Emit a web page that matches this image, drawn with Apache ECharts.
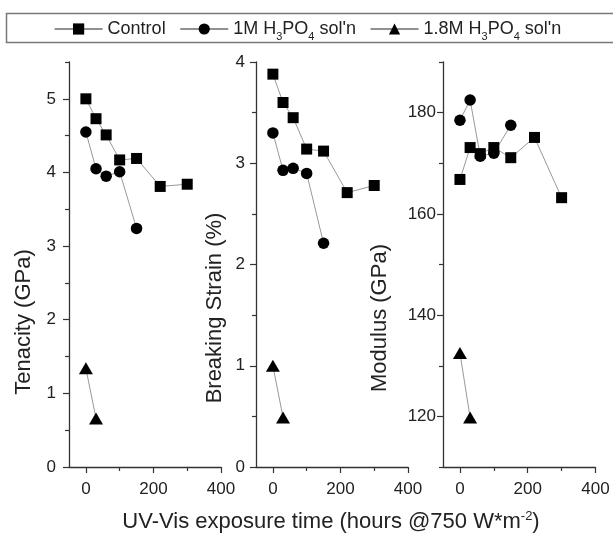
<!DOCTYPE html>
<html>
<head>
<meta charset="utf-8">
<script src="https://cdn.jsdelivr.net/npm/echarts@6/dist/echarts.min.js"></script>
<style>
html,body{margin:0;padding:0;background:#fff;}
#c{width:613px;height:534px;}
</style>
</head>
<body>
<div id="c"></div>
<script>
// ---- data ----
const timeControl = [0, 30, 60, 100, 150, 220, 300];
const time1M = [0, 30, 60, 100, 150];
const time18M = [0, 30];

const tenControl = [5.00, 4.73, 4.51, 4.17, 4.19, 3.81, 3.84];
const ten1M = [4.55, 4.05, 3.95, 4.01, 3.24];
const ten18M = [1.34, 0.66];

const strainControl = [3.88, 3.60, 3.45, 3.14, 3.12, 2.71, 2.78];
const strain1M = [3.30, 2.93, 2.95, 2.90, 2.21];
const strain18M = [1.00, 0.49];

const modControl = [166.8, 173.1, 171.9, 173.1, 171.1, 175.1, 163.2];
const mod1M = [178.5, 182.5, 171.4, 172.0, 177.5];
const mod18M = [132.5, 119.8];

const seriesNames = ['Control', "1M H3PO4 sol'n", "1.8M H3PO4 sol'n"];
const xLabelTicks = [0, 200, 400];
const xMinorTicks = [100, 300];
const yLabelTicks = [[0, 1, 2, 3, 4, 5], [0, 1, 2, 3, 4], [120, 140, 160, 180]];
const yMinorTicks = [[0.5, 1.5, 2.5, 3.5, 4.5, 5.5], [0.5, 1.5, 2.5, 3.5], [110, 130, 150, 170, 190]];
const yRanges = [[0, 5.5], [0, 4], [110, 190]];
const yTitles = ['Tenacity (GPa)', 'Breaking Strain (%)', 'Modulus (GPa)'];
const xTitle = 'UV-Vis exposure time (hours @750 W*m{sup|-2})';

const panelData = [
  [tenControl, ten1M, ten18M],
  [strainControl, strain1M, strain18M],
  [modControl, mod1M, mod18M]
];
const times = [timeControl, time1M, time18M];

// ---- layout / style ----
const FONT = 'Liberation Sans';
const TXT = '#222';
const AX = '#333';
const grids = [
  {left: 69, top: 62, width: 152, height: 405},
  {left: 256, top: 62, width: 152, height: 405},
  {left: 443, top: 62, width: 152.5, height: 405}
];
const labelMargins = [13, 11, 7];
const symbols = ['rect', 'circle', 'triangle'];
const symbolSizes = [11, 11.5, [14, 12]];

const xAxes = [], yAxes = [], series = [];
grids.forEach((g, i) => {
  xAxes.push({
    gridIndex: i, type: 'value', min: -50, max: 400,
    axisLine: {show: true, onZero: false, lineStyle: {color: AX, width: 1.3}},
    axisTick: {show: true, customValues: xLabelTicks, length: 6, lineStyle: {color: AX, width: 1.2}},
    axisLabel: {show: true, customValues: xLabelTicks, margin: 14, fontFamily: FONT, fontSize: 17, color: TXT, showMinLabel: true, showMaxLabel: true},
    splitLine: {show: false}
  });
  xAxes.push({
    gridIndex: i, type: 'value', min: -50, max: 400, position: 'bottom',
    axisLine: {show: false, onZero: false},
    axisTick: {show: true, customValues: xMinorTicks, length: 4, lineStyle: {color: AX, width: 1.2}},
    axisLabel: {show: false},
    splitLine: {show: false}
  });
  yAxes.push({
    gridIndex: i, type: 'value', min: yRanges[i][0], max: yRanges[i][1],
    axisLine: {show: true, onZero: false, lineStyle: {color: AX, width: 1.3}},
    axisTick: {show: true, customValues: yLabelTicks[i], length: 6, lineStyle: {color: AX, width: 1.2}},
    axisLabel: {show: true, customValues: yLabelTicks[i], margin: labelMargins[i], fontFamily: FONT, fontSize: 17, color: TXT},
    splitLine: {show: false}
  });
  yAxes.push({
    gridIndex: i, type: 'value', min: yRanges[i][0], max: yRanges[i][1], position: 'left',
    axisLine: {show: false, onZero: false},
    axisTick: {show: true, customValues: yMinorTicks[i], length: 4, lineStyle: {color: AX, width: 1.2}},
    axisLabel: {show: false},
    splitLine: {show: false}
  });
  for (let s = 0; s < 3; s++) {
    series.push({
      name: seriesNames[s],
      type: 'line',
      xAxisIndex: 2 * i, yAxisIndex: 2 * i,
      data: times[s].map((t, k) => [t, panelData[i][s][k]]),
      symbol: symbols[s],
      symbolSize: symbolSizes[s],
      showSymbol: true,
      itemStyle: {color: '#000'},
      lineStyle: {color: '#999', width: 1},
      emphasis: {disabled: true},
      animation: false,
      z: 3
    });
  }
});

const graphics = [
  {type: 'rect', shape: {x: 6.5, y: 13.5, width: 640, height: 29}, style: {fill: 'none', stroke: '#777', lineWidth: 1.5}, z: 0},
  {type: 'text', x: 331, y: 522, style: {text: xTitle, font: '22px "' + FONT + '"', fill: TXT, align: 'center', verticalAlign: 'middle',
    rich: {sup: {fontSize: 13, fontFamily: FONT, verticalAlign: 'top', fill: TXT, padding: [0, 0, 12, 0]}}}}
];
const nameCenters = [[24, 322], [215, 308], [380, 318]];
yTitles.forEach((t, i) => {
  graphics.push({type: 'text', x: nameCenters[i][0], y: nameCenters[i][1], rotation: Math.PI / 2,
    style: {text: t, font: '22px "' + FONT + '"', fill: TXT, align: 'center', verticalAlign: 'middle'}});
});

const chart = echarts.init(document.getElementById('c'), null, {renderer: 'canvas'});
chart.setOption({
  animation: false,
  backgroundColor: '#fff',
  grid: grids,
  xAxis: xAxes,
  yAxis: yAxes,
  series: series,
  legend: {
    data: seriesNames,
    left: 49, top: 11,
    itemWidth: 48, itemHeight: 14, itemGap: 14,
    lineStyle: {color: '#222', width: 1.2},
    textStyle: {fontFamily: FONT, fontSize: 18, color: TXT, lineHeight: 26,
      rich: {s: {fontFamily: FONT, fontSize: 11, color: TXT, verticalAlign: 'bottom', lineHeight: 12}}},
    formatter: function (name) {
      return name.replace('H3PO4', 'H{s|3}PO{s|4}');
    },
    selectedMode: false
  },
  graphic: graphics
});
</script>
</body>
</html>
